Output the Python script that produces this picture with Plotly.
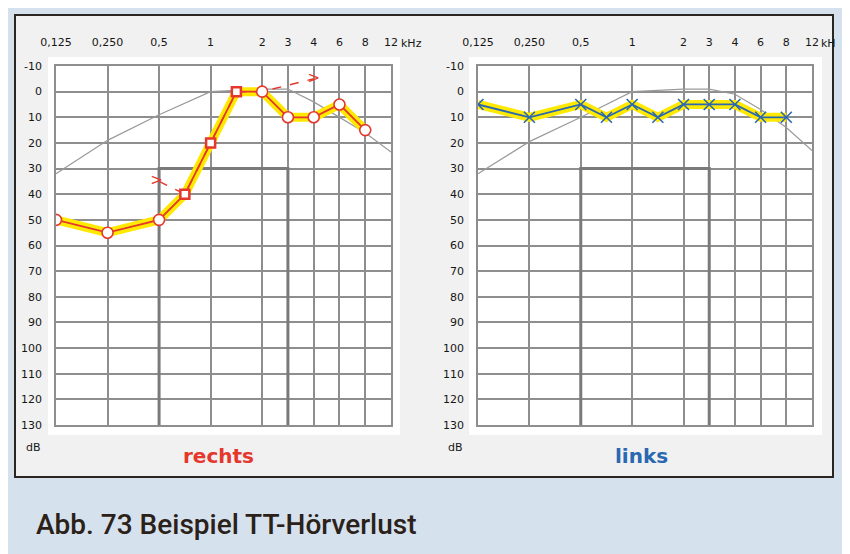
import numpy as np
import plotly.graph_objects as go

W, H = 850, 554
OFF = 8  # the page puts the figure 8 px in from the top-left corner

freq_ticks = [0.125, 0.25, 0.5, 1, 2, 3, 4, 6, 8, 12]
freq_labels = ["0,125", "0,250", "0,5", "1", "2", "3", "4", "6", "8", "12"]
db_ticks = list(range(-10, 131, 10))
db_labels = [str(v) for v in db_ticks]

test_freq = [0.125, 0.25, 0.5, 0.75, 1, 1.5, 2, 3, 4, 6, 8]
right_air = [50, 55, 50, 40, 20, 0, 0, 10, 10, 5, 15]
left_air = [5, 10, 5, 10, 5, 10, 5, 5, 5, 10, 10]

right_bone_freq = [0.5, 0.75, 1, 1.5, 2, 4]
right_bone = [35, 40, 20, 0, 0, -5]

curve_right = [32, 19, 9, 0, -1, -1, 4, 10, 16, 23.5]
curve_left = [32, 19.5, 10, 0, -1, -1, 1, 7, 14, 23]

RED = "#e5372c"
BLUE = "#2a68b2"
YELLOW = "#ffe900"
GRID = "#8e8e8e"
TXT = "#161616"


def octave_pos(f):
    # audiogram spacing: octaves equal, half-octaves in the middle
    return np.round(2 * np.log2(np.asarray(f, dtype=float) / 0.125)) / 2


def px(x):
    return (x - OFF) / W


def py(y):
    return 1 - (y - OFF) / H


fig = go.Figure()

# panels: (x axis id, y axis id, grid left px, grid right px)
panels = [("x", "y", 56, 391), ("x2", "y2", 478, 812)]

for i, (xa, ya, x0, x1) in enumerate(panels):
    curve = curve_right if i == 0 else curve_left
    fig.add_trace(go.Scatter(
        x=octave_pos(freq_ticks), y=curve, xaxis=xa, yaxis=ya, mode="lines",
        line=dict(color="#9a9a9a", width=1.2), hoverinfo="skip",
    ))

# right ear (rechts)
xr = octave_pos(test_freq)
fig.add_trace(go.Scatter(x=xr, y=right_air, mode="lines",
                         line=dict(color=YELLOW, width=9), hoverinfo="skip"))
xb = octave_pos(right_bone_freq)
fig.add_trace(go.Scatter(x=xb, y=right_bone, mode="lines",
                         line=dict(color=RED, width=1.5, dash="dash")))
fig.add_trace(go.Scatter(x=xr, y=right_air, mode="lines",
                         line=dict(color=RED, width=1.8)))
bone_mid = right_bone_freq[1:-2]
circ_f = [f for f in test_freq if f not in bone_mid]
circ_v = [v for f, v in zip(test_freq, right_air) if f not in bone_mid]
fig.add_trace(go.Scatter(
    x=octave_pos(circ_f), y=circ_v, mode="markers",
    marker=dict(symbol="circle", size=11, color="white", line=dict(color=RED, width=1.6)),
))
fig.add_trace(go.Scatter(
    x=octave_pos(bone_mid), y=right_bone[1:-2], mode="markers",
    marker=dict(symbol="square", size=9, color="white", line=dict(color=RED, width=2.5)),
))
fig.add_trace(go.Scatter(
    x=octave_pos([right_bone_freq[0], right_bone_freq[-1]]) + np.array([-0.05, 0.0]),
    y=[right_bone[0], right_bone[-1]], mode="text", text=[">", ">"],
    textfont=dict(family="DejaVu Sans", size=15, color=RED),
))

# left ear (links)
fig.add_trace(go.Scatter(x=xr, y=left_air, xaxis="x2", yaxis="y2", mode="lines",
                         line=dict(color=YELLOW, width=9), hoverinfo="skip"))
fig.add_trace(go.Scatter(
    x=xr, y=left_air, xaxis="x2", yaxis="y2", mode="lines+markers",
    line=dict(color=BLUE, width=1.8),
    marker=dict(symbol="x-thin", size=11, line=dict(color=BLUE, width=1.6)),
))

layout = dict(
    width=W, height=H, margin=dict(l=0, r=0, t=0, b=0, pad=0, autoexpand=False),
    paper_bgcolor="#d5e2ee", plot_bgcolor="white", showlegend=False,
    font=dict(family="DejaVu Sans", size=11, color=TXT),
)
shapes = [
    dict(type="rect", xref="paper", yref="paper", x0=px(15), x1=px(833), y0=py(477), y1=py(15),
         fillcolor="#f1f1f1", line=dict(color="#2b2620", width=2), layer="below"),
    dict(type="rect", xref="paper", yref="paper", x0=px(48), x1=px(400), y0=py(435), y1=py(57),
         fillcolor="white", line=dict(width=0), layer="below"),
    dict(type="rect", xref="paper", yref="paper", x0=px(469), x1=px(822), y0=py(435), y1=py(57),
         fillcolor="white", line=dict(width=0), layer="below"),
]
annotations = []
for i, (xa, ya, x0, x1) in enumerate(panels):
    sfx = "" if i == 0 else "2"
    layout["xaxis" + sfx] = dict(
        domain=[px(x0), px(x1)], range=[0, 6.5], anchor=ya, side="top", automargin=False,
        tickvals=octave_pos(freq_ticks), ticktext=freq_labels, ticks="",
        ticklabelstandoff=14, showgrid=True, gridcolor=GRID, gridwidth=1.6,
        showline=True, mirror=True, linecolor=GRID, linewidth=1.6, zeroline=False,
    )
    layout["yaxis" + sfx] = dict(
        domain=[py(425), py(66)], range=[130, -10], anchor=xa, automargin=False,
        tickvals=db_ticks, ticktext=db_labels, ticks="", ticklabelstandoff=10,
        showgrid=True, gridcolor=GRID, gridwidth=1.6,
        showline=True, mirror=True, linecolor=GRID, linewidth=1.6, zeroline=False,
    )
    shapes.append(dict(
        type="path", xref=xa, yref=ya, layer="between",
        path="M {a},130 L {a},30 L {b},30 L {b},130".format(a=octave_pos(0.5), b=octave_pos(3)),
        line=dict(color="#7a7a7a", width=3),
    ))
    annotations.append(dict(xref="paper", yref="paper", x=px(x0 - 13), y=py(447),
                            xanchor="right", yanchor="middle", text="dB", showarrow=False,
                            font=dict(size=11, color=TXT)))

annotations += [
    dict(xref="paper", yref="paper", x=px(399), y=py(43), xanchor="left", yanchor="middle",
         text="kHz", showarrow=False, font=dict(size=11, color=TXT)),
    dict(xref="paper", yref="paper", x=px(819), y=py(43), xanchor="left", yanchor="middle",
         text="kH", showarrow=False, font=dict(size=11, color=TXT)),
    dict(xref="paper", yref="paper", x=px(218), y=py(456), xanchor="center", yanchor="middle",
         text="<b>rechts</b>", showarrow=False, font=dict(size=20, color=RED)),
    dict(xref="paper", yref="paper", x=px(641), y=py(456), xanchor="center", yanchor="middle",
         text="<b>links</b>", showarrow=False, font=dict(size=20, color=BLUE)),
    dict(xref="paper", yref="paper", x=px(34), y=py(524), xanchor="left", yanchor="middle",
         text="Abb. 73 Beispiel TT-Hörverlust", showarrow=False,
         font=dict(family="Roboto", size=28, weight=500, color="#2b2119")),
]
layout["shapes"] = shapes
layout["annotations"] = annotations
fig.update_layout(**layout)

fig.write_html("out.html")
